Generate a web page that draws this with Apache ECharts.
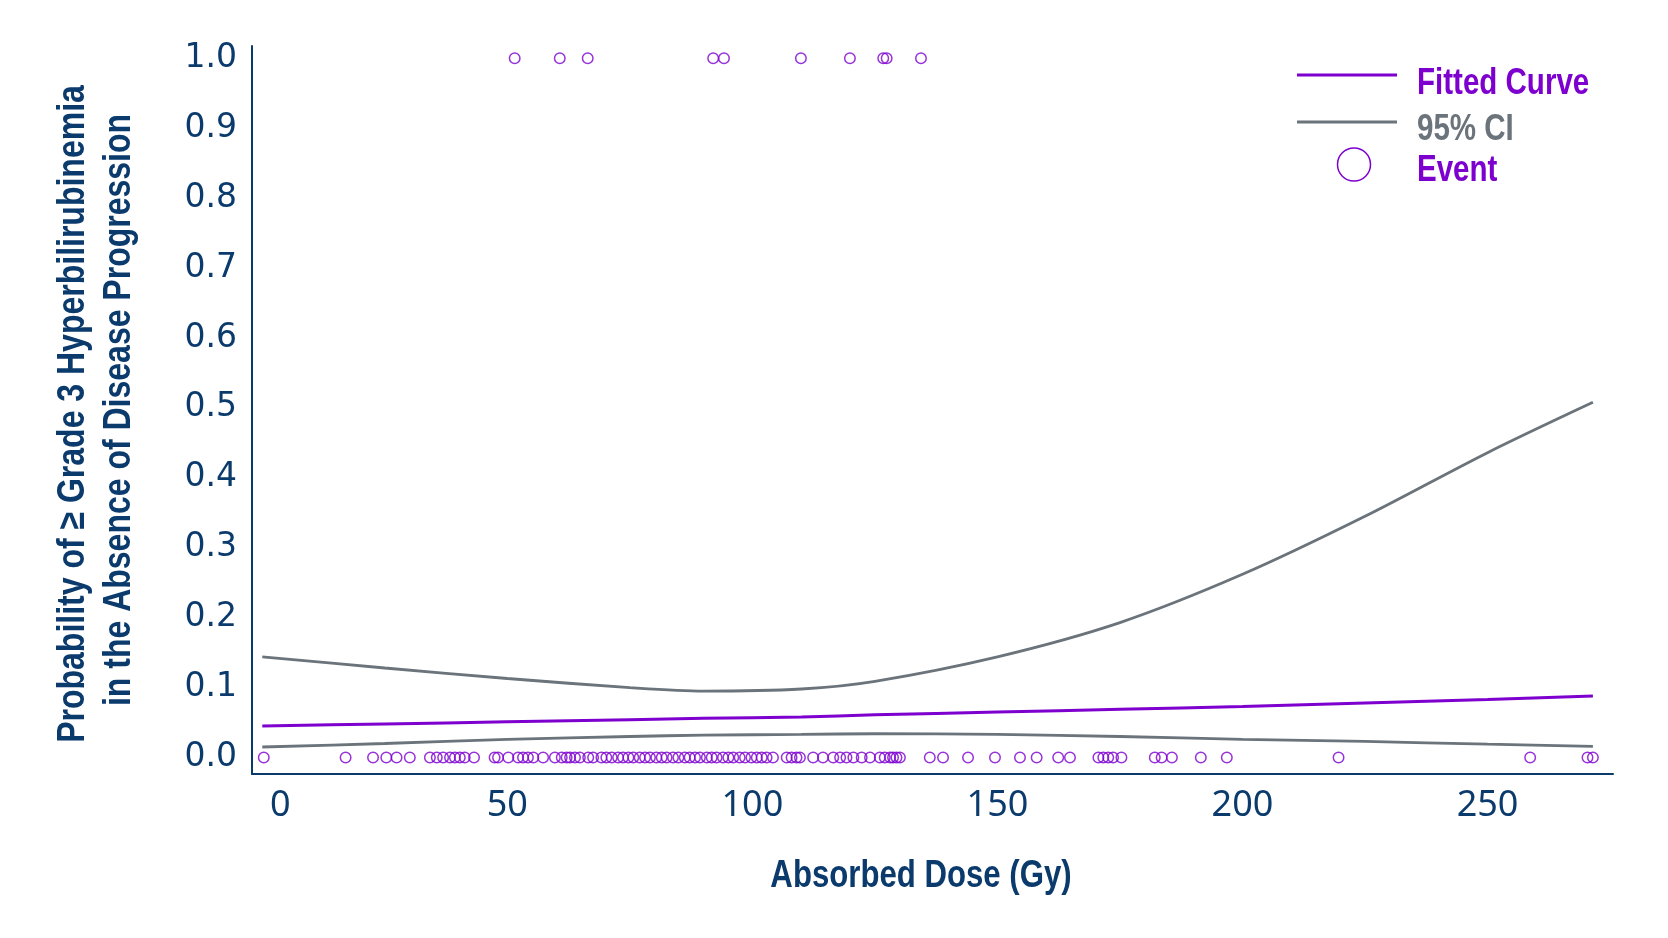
<!DOCTYPE html>
<html><head><meta charset="utf-8">
<script src="https://cdn.jsdelivr.net/npm/echarts@6/dist/echarts.min.js"></script>
<style>html,body{margin:0;padding:0;background:#fff}#c{width:1668px;height:938px}</style>
</head><body><div id="c"></div><script>
// Dose grid (Gy) at which the curves were read
const curveDose = [0, 25, 50, 75, 90, 110, 125, 150, 175, 200, 225, 250, 271.5];
const fittedProb = [0.045, 0.048, 0.051, 0.054, 0.056, 0.058, 0.061, 0.065, 0.069, 0.073, 0.078, 0.083, 0.088];
const ciUpper   = [0.144, 0.128, 0.113, 0.100, 0.095, 0.098, 0.109, 0.144, 0.193, 0.262, 0.345, 0.436, 0.508];
const ciLower   = [0.015, 0.020, 0.026, 0.030, 0.032, 0.033, 0.034, 0.033, 0.030, 0.026, 0.023, 0.019, 0.016];
// Patients with event (plotted at 1) and without (plotted at 0)
const eventDose = [51.5, 60.7, 66.4, 92.0, 94.2, 109.9, 119.9, 126.7, 127.4, 134.4];
const noEventDose = [0.3, 17.0, 22.6, 25.3, 27.4, 30.1, 34.2, 35.6, 36.9, 38.3, 39.3, 40.3, 41.3, 43.2,
  47.4, 48.1, 50.2, 52.2, 53.2, 54.2, 55.3, 57.3, 59.7, 61.1, 62.1, 62.8, 63.8, 64.8, 66.5, 67.5,
  69.2, 70.2, 71.3, 72.6, 73.6, 74.7, 75.7, 77.0, 78.1, 79.1, 80.4, 81.5, 82.5, 83.8, 84.9, 86.2,
  87.2, 88.3, 89.3, 90.7, 91.7, 92.7, 94.0, 95.1, 96.1, 97.4, 98.5, 99.8, 100.9, 101.9, 102.9, 104.2,
  107.0, 108.0, 109.0, 109.7, 112.4, 114.4, 116.5, 117.9, 119.2, 120.6, 122.3, 124.0, 126.0, 127.0,
  128.1, 128.7, 129.4, 130.1, 136.2, 138.9, 144.0, 149.5, 154.6, 158.0, 162.4, 164.8, 170.6, 171.6,
  172.6, 173.6, 175.3, 182.1, 183.5, 185.6, 191.5, 196.8, 219.6, 258.7, 270.4, 271.5];
const xTicks = [0, 50, 100, 150, 200, 250];
const yTicks = [0, 0.1, 0.2, 0.3, 0.4, 0.5, 0.6, 0.7, 0.8, 0.9, 1.0];
const legendNames = ['Fitted Curve', '95% CI', 'Event'];
const xTitle = 'Absorbed Dose (Gy)';
const yTitle = ['Probability of \u2265 Grade 3 Hyperbilirubinemia', 'in the Absence of Disease Progression'];

const NAVY = '#0b3a6c', PURPLE = '#7d00cf', GRAY = '#6b737b';
const BOLD38 = 'bold 38px "Liberation Sans", Arial, sans-serif';
const BOLD36 = 'bold 36px "Liberation Sans", Arial, sans-serif';
const NARROW = 0.82;
const tickFont = '"Noto Sans", "Open Sans", sans-serif';

const zip = (xs, ys) => xs.map((x, i) => [x, ys[i]]);

const chart = echarts.init(document.getElementById('c'), null, {renderer: 'canvas'});
chart.setOption({
  backgroundColor: '#fff',
  animation: false,
  grid: {left: 252, right: 55, top: 46, bottom: 164, containLabel: false},
  xAxis: {
    type: 'value', min: -2.1, max: 275.6,
    splitLine: {show: false},
    axisTick: {show: false},
    axisLine: {show: true, onZero: false, lineStyle: {color: NAVY, width: 2}},
    axisLabel: {
      customValues: xTicks, margin: 14,
      color: NAVY, fontSize: 36, fontFamily: tickFont,
      formatter: v => v === 0 ? '{z|0}' : String(v),
      rich: {z: {fontSize: 36, color: NAVY, fontFamily: tickFont, padding: [0, 0, 0, 36]}}
    }
  },
  yAxis: {
    type: 'value', min: -0.0236, max: 1.0176,
    splitLine: {show: false},
    axisTick: {show: false},
    axisLine: {show: true, onZero: false, lineStyle: {color: NAVY, width: 2}},
    axisLabel: {
      customValues: yTicks, margin: 15,
      color: NAVY, fontSize: 33, fontFamily: '"DejaVu Sans", sans-serif',
      formatter: v => v.toFixed(1)
    }
  },
  series: [
    {name: legendNames[1], type: 'line', data: zip(curveDose, ciUpper), smooth: 0.3, showSymbol: false,
      lineStyle: {color: GRAY, width: 2.8}, z: 2},
    {name: legendNames[1], type: 'line', data: zip(curveDose, ciLower), smooth: 0.3, showSymbol: false,
      lineStyle: {color: GRAY, width: 2.8}, z: 2},
    {name: legendNames[0], type: 'line', data: zip(curveDose, fittedProb), smooth: 0.3, showSymbol: false,
      lineStyle: {color: PURPLE, width: 3}, z: 3},
    {name: legendNames[2], type: 'scatter', symbol: 'circle', symbolSize: 10.5,
      data: eventDose.map(x => [x, 1]).concat(noEventDose.map(x => [x, 0])),
      itemStyle: {color: 'rgba(0,0,0,0)', borderColor: PURPLE, borderWidth: 1.5}, z: 4}
  ],
  graphic: [
    // axis titles (condensed bold)
    {type: 'text', x: 921, y: 877, scaleX: NARROW,
      style: {text: xTitle, fill: NAVY, font: BOLD38, align: 'center', verticalAlign: 'middle'}},
    {type: 'text', x: 74, y: 414, rotation: Math.PI / 2, scaleX: 0.842,
      style: {text: yTitle[0], fill: NAVY, font: BOLD38, align: 'center', verticalAlign: 'middle'}},
    {type: 'text', x: 119.5, y: 410, rotation: Math.PI / 2, scaleX: 0.842,
      style: {text: yTitle[1], fill: NAVY, font: BOLD38, align: 'center', verticalAlign: 'middle'}},
    // legend
    {type: 'line', shape: {x1: 1297, y1: 75, x2: 1397, y2: 75}, style: {stroke: PURPLE, lineWidth: 3}},
    {type: 'text', x: 1417, y: 84.5, scaleX: NARROW, style: {text: legendNames[0], fill: PURPLE, font: BOLD36, verticalAlign: 'middle'}},
    {type: 'line', shape: {x1: 1297, y1: 122, x2: 1397, y2: 122}, style: {stroke: GRAY, lineWidth: 3}},
    {type: 'text', x: 1417, y: 130.5, scaleX: NARROW, style: {text: legendNames[1], fill: GRAY, font: BOLD36, verticalAlign: 'middle'}},
    {type: 'circle', shape: {cx: 1354, cy: 164.5, r: 16.5}, style: {fill: 'none', stroke: PURPLE, lineWidth: 1.5}},
    {type: 'text', x: 1417, y: 171.5, scaleX: NARROW, style: {text: legendNames[2], fill: PURPLE, font: BOLD36, verticalAlign: 'middle'}}
  ]
});
</script></body></html>
